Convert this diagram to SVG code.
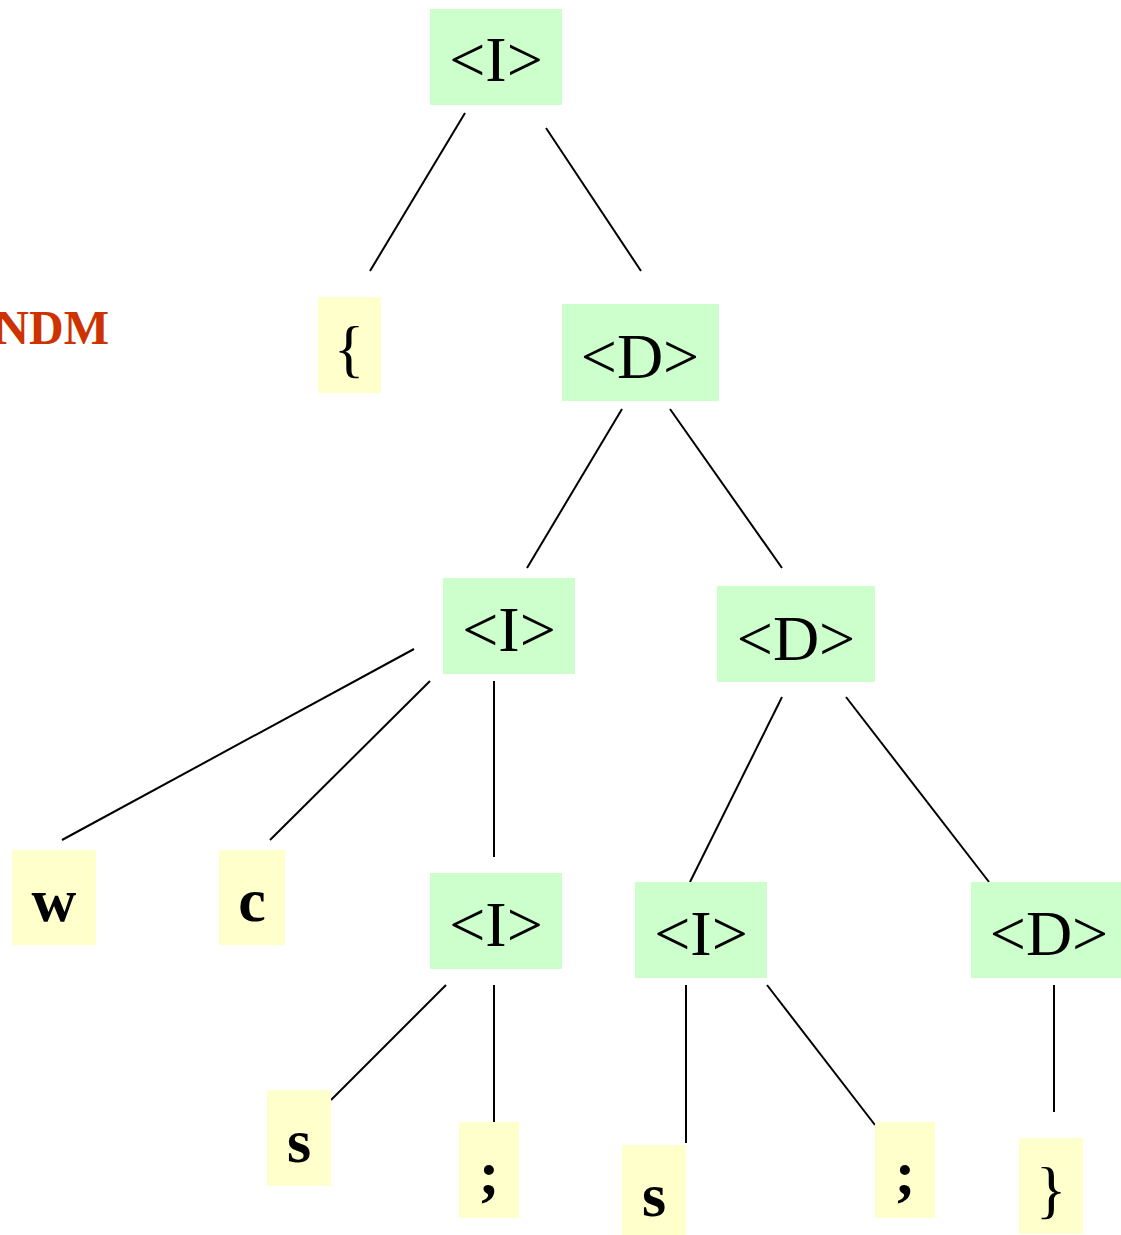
<svg xmlns="http://www.w3.org/2000/svg" width="1121" height="1235" viewBox="0 0 1121 1235">
<style>
.nt rect{fill:#CCFFCC}
.t rect{fill:#FFFFCC}
.nt text{font-family:"Liberation Serif",serif;font-size:64px;fill:#000;text-anchor:middle}
.t text{font-family:"Liberation Serif",serif;font-size:62px;font-weight:bold;fill:#000;text-anchor:middle}
.t text.br{font-weight:normal;font-size:64px}
.c line{stroke:#000;stroke-width:2}
</style>
<rect width="1121" height="1235" fill="#fff"/>
<text x="109" y="344" font-family="Liberation Serif,serif" font-size="48" font-weight="bold" fill="#CC3300" text-anchor="end">NDM</text>
<g class="c" id="connectors">
<line x1="465" y1="113" x2="370" y2="271"/>
<line x1="546" y1="128" x2="641" y2="271"/>
<line x1="622" y1="409" x2="527" y2="568"/>
<line x1="670" y1="409" x2="782" y2="568"/>
<line x1="414" y1="649" x2="62" y2="840"/>
<line x1="430" y1="681" x2="270" y2="840"/>
<line x1="494" y1="681" x2="494" y2="857"/>
<line x1="782" y1="697" x2="690" y2="882"/>
<line x1="846" y1="697" x2="989" y2="882"/>
<line x1="446" y1="985" x2="331" y2="1100"/>
<line x1="494" y1="985" x2="494" y2="1122"/>
<line x1="686" y1="985" x2="686" y2="1143"/>
<line x1="767" y1="985" x2="875" y2="1125"/>
<line x1="1054" y1="985" x2="1054" y2="1112"/>
</g>
<g class="nt" id="n_I1"><rect x="430" y="9" width="132" height="96"/><text x="496" y="81">&lt;I&gt;</text></g>
<g class="t" id="n_lbrace"><rect x="318" y="297" width="63" height="96"/><text class="br" x="349" y="370">{</text></g>
<g class="nt" id="n_D1"><rect x="562" y="304" width="157" height="97"/><text x="640" y="378">&lt;D&gt;</text></g>
<g class="nt" id="n_I2"><rect x="443" y="578" width="132" height="96"/><text x="509" y="651">&lt;I&gt;</text></g>
<g class="nt" id="n_D2"><rect x="717" y="586" width="158" height="96"/><text x="796" y="660">&lt;D&gt;</text></g>
<g class="t" id="n_w"><rect x="12" y="850" width="84" height="95"/><text x="54" y="921">w</text></g>
<g class="t" id="n_c"><rect x="219" y="850" width="66" height="95"/><text x="252" y="921">c</text></g>
<g class="nt" id="n_I3"><rect x="430" y="873" width="132" height="96"/><text x="496" y="946">&lt;I&gt;</text></g>
<g class="nt" id="n_I4"><rect x="635" y="882" width="132" height="96"/><text x="701" y="955">&lt;I&gt;</text></g>
<g class="nt" id="n_D3"><rect x="971" y="882" width="150" height="96"/><text x="1049" y="955">&lt;D&gt;</text></g>
<g class="t" id="n_s1"><rect x="267" y="1090" width="64" height="96"/><text x="299" y="1162">s</text></g>
<g class="t" id="n_semi1"><rect x="459" y="1122" width="60" height="96"/><text x="489" y="1194">;</text></g>
<g class="t" id="n_s2"><rect x="622" y="1145" width="64" height="90"/><text x="654" y="1216">s</text></g>
<g class="t" id="n_semi2"><rect x="875" y="1122" width="60" height="96"/><text x="905" y="1194">;</text></g>
<g class="t" id="n_rbrace"><rect x="1019" y="1138" width="64" height="96"/><text class="br" x="1051" y="1211">}</text></g>
</svg>
